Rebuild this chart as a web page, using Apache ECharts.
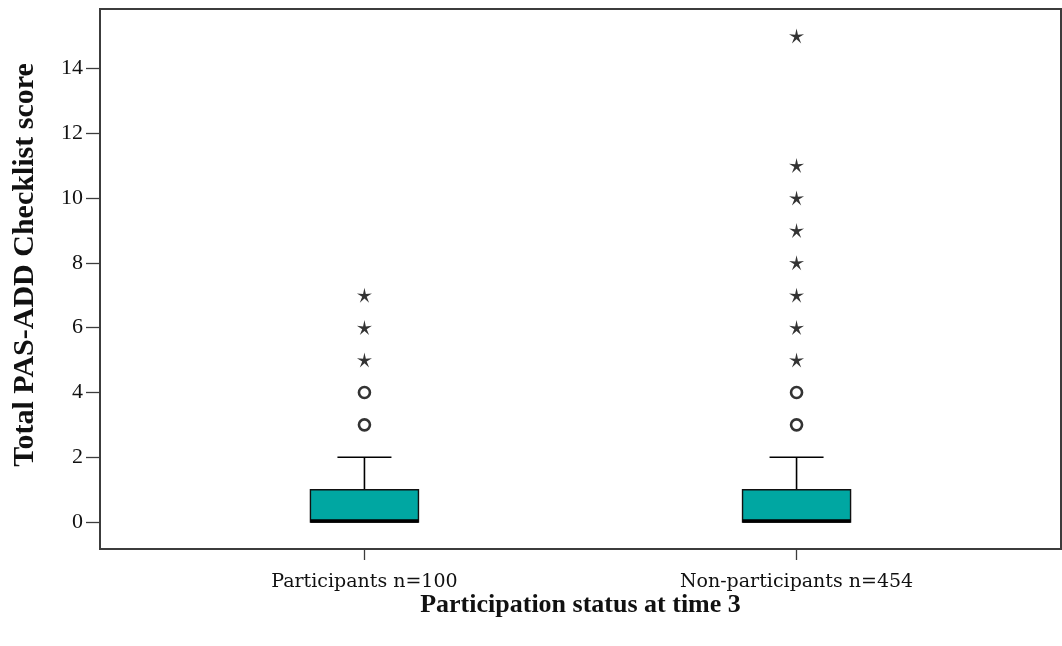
<!DOCTYPE html>
<html>
<head>
<meta charset="utf-8">
<script src="https://cdn.jsdelivr.net/npm/echarts@6/dist/echarts.min.js"></script>
<style>
  html, body { margin: 0; padding: 0; background: #fff; }
  #chart { width: 1062px; height: 646px; }
</style>
</head>
<body>
<div id="chart"></div>
<script>
// Groups on the horizontal axis
const categories = ['Participants n=100', 'Non-participants n=454'];

// Five-number summaries per group
const whiskerLow = [0, 0];
const q1 = [0, 0];
const median = [0, 0];
const q3 = [1, 1];
const whiskerHigh = [2, 2];

// Outliers (circles) and extreme values (stars) per group
const outliers = [[3, 4], [3, 4]];
const extremes = [[5, 6, 7], [5, 6, 7, 8, 9, 10, 11, 15]];

// Tick values on the score axis
const yTicks = [0, 2, 4, 6, 8, 10, 12, 14];
const xTicks = [0, 1];

const serif = '"Liberation Serif", "DejaVu Serif", serif';
const wideSerif = '"DejaVu Serif", "Liberation Serif", serif';
// five-armed asterisk-like star
const starPath = 'path://M50,0 L58.8,37.9 L97.6,34.6 L64.3,54.6 L79.4,90.5 L50,65 L20.6,90.5 L35.7,54.6 L2.4,34.6 L41.2,37.9 Z';

const boxData = categories.map((c, i) => [i, whiskerLow[i], q1[i], median[i], q3[i], whiskerHigh[i]]);
const outlierData = [];
outliers.forEach((vals, i) => vals.forEach(v => outlierData.push([i, v])));
const extremeData = [];
extremes.forEach((vals, i) => vals.forEach(v => extremeData.push([i, v])));

function renderBox(params, api) {
  const x = api.value(0);
  const lo = api.coord([x, api.value(1)]);
  const b1 = api.coord([x, api.value(2)]);
  const med = api.coord([x, api.value(3)]);
  const b3 = api.coord([x, api.value(4)]);
  const hi = api.coord([x, api.value(5)]);
  const w = api.size([0.25, 0])[0];
  const cx = b1[0];
  const lineStyle = { stroke: '#000', lineWidth: 1.6 };
  return {
    type: 'group',
    children: [
      { type: 'line', shape: { x1: cx, y1: b3[1], x2: cx, y2: hi[1] }, style: lineStyle },
      { type: 'line', shape: { x1: cx - w / 4, y1: hi[1], x2: cx + w / 4, y2: hi[1] }, style: lineStyle },
      { type: 'line', shape: { x1: cx, y1: b1[1], x2: cx, y2: lo[1] }, style: lineStyle },
      { type: 'rect', shape: { x: cx - w / 2, y: b3[1], width: w, height: b1[1] - b3[1] },
        style: { fill: '#00a7a2', stroke: '#111', lineWidth: 1.4 } },
      { type: 'line', shape: { x1: cx - w / 2, y1: med[1] - 1, x2: cx + w / 2, y2: med[1] - 1 },
        style: { stroke: '#000', lineWidth: 3.5 } }
    ]
  };
}

const chart = echarts.init(document.getElementById('chart'), null, { renderer: 'canvas' });
chart.setOption({
  animation: false,
  backgroundColor: '#fff',
  grid: {
    left: 100, right: 1, top: 9, bottom: 97,
    show: true, borderColor: '#3c3c3c', borderWidth: 2, backgroundColor: 'transparent'
  },
  xAxis: {
    type: 'value',
    min: -0.612, max: 1.612,
    name: 'Participation status at time 3',
    nameLocation: 'middle',
    nameGap: 43,
    nameMoveOverlap: false,
    nameTextStyle: { fontFamily: serif, fontSize: 26, fontWeight: 'bold', color: '#111' },
    axisLine: { show: true, onZero: false, lineStyle: { color: '#3c3c3c', width: 2 } },
    axisTick: { show: true, length: 11, customValues: xTicks, lineStyle: { color: '#3c3c3c', width: 1.3 } },
    axisLabel: {
      customValues: xTicks, margin: 24,
      fontFamily: wideSerif, fontSize: 19, color: '#111',
      formatter: v => categories[Math.round(v)]
    },
    splitLine: { show: false }
  },
  yAxis: {
    type: 'value',
    min: -0.83, max: 15.83,
    name: 'Total PAS-ADD Checklist score',
    nameLocation: 'middle',
    nameGap: 60,
    nameRotate: 90,
    nameMoveOverlap: false,
    nameTextStyle: {
      fontFamily: serif, fontSize: 30, fontWeight: 'bold', color: '#111',
      padding: [0, 0, 0, 28]
    },
    axisLine: { show: true, onZero: false, lineStyle: { color: '#3c3c3c', width: 2 } },
    axisTick: { show: true, length: 14, customValues: yTicks, lineStyle: { color: '#3c3c3c', width: 1.3 } },
    axisLabel: {
      customValues: yTicks, margin: 17,
      fontFamily: serif, fontSize: 22, color: '#111'
    },
    splitLine: { show: false }
  },
  series: [
    {
      type: 'custom',
      renderItem: renderBox,
      data: boxData,
      encode: { x: 0, y: [1, 2, 3, 4, 5] },
      z: 2
    },
    {
      type: 'scatter',
      data: outlierData,
      symbol: 'circle',
      symbolSize: 11,
      itemStyle: { color: '#fff', borderColor: '#000', borderWidth: 2.6 },
      z: 3
    },
    {
      type: 'scatter',
      data: extremeData,
      symbol: starPath,
      symbolSize: 15,
      itemStyle: { color: '#000' },
      z: 3
    }
  ]
});
</script>
</body>
</html>
